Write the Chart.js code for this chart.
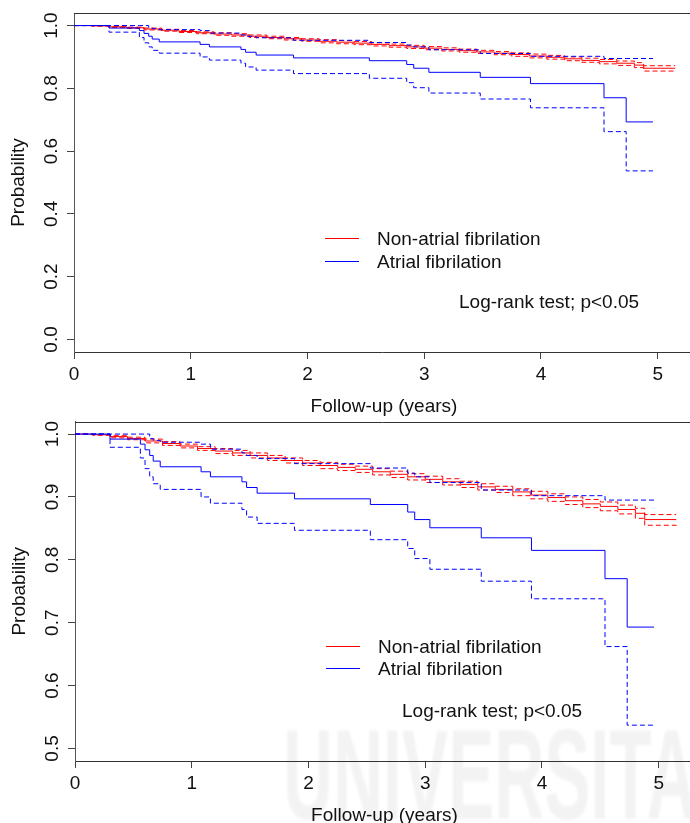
<!DOCTYPE html>
<html>
<head>
<meta charset="utf-8">
<script src="https://cdn.jsdelivr.net/npm/chart.js@4.4.1/dist/chart.umd.min.js"></script>
<style>
  html, body { margin: 0; padding: 0; background: #fff; }
  #wrap { position: relative; width: 690px; height: 823px; overflow: hidden; background: #fff; }
  #wrap canvas { position: absolute; left: 0; }
  #arriba { top: 0; }
  #abajo { top: 412px; }
  #marca {
    position: absolute; left: 283px; top: 711px;
    font: bold 128px "Liberation Sans", Arial, sans-serif; line-height: 1;
    color: #f3f3f3; white-space: nowrap;
    transform: scaleX(0.54); transform-origin: 0 0; filter: blur(1.5px);
  }
</style>
</head>
<body>
<div id="wrap">
  <div id="marca">UNIVERSITA</div>
  <canvas id="arriba" width="690" height="430"></canvas>
  <canvas id="abajo" width="690" height="411"></canvas>
</div>
<script>
// Kaplan-Meier: pacientes sin fibrilación auricular (rojo)
const tiemposNoFA = [0, 0.15, 0.3, 0.45, 0.6, 0.75, 0.9, 1.05, 1.2, 1.35, 1.5, 1.65, 1.8, 1.95, 2.1, 2.25, 2.4, 2.55, 2.7, 2.85,
  3.0, 3.15, 3.3, 3.45, 3.6, 3.75, 3.9, 4.05, 4.2, 4.35, 4.5, 4.65, 4.8, 4.88, 5.15];
const survNoFA = [1.000, 0.999, 0.996, 0.993, 0.989, 0.985, 0.981, 0.977, 0.973, 0.970, 0.966, 0.962, 0.958, 0.954, 0.950, 0.947, 0.944, 0.940, 0.936, 0.932,
  0.928, 0.924, 0.920, 0.916, 0.912, 0.908, 0.903, 0.899, 0.894, 0.889, 0.885, 0.880, 0.874, 0.864, 0.864];
const survNoFAsup = [1.000, 1.000, 0.998, 0.995, 0.992, 0.988, 0.984, 0.980, 0.977, 0.974, 0.970, 0.966, 0.962, 0.958, 0.955, 0.952, 0.949, 0.945, 0.941, 0.937,
  0.933, 0.929, 0.925, 0.921, 0.917, 0.913, 0.909, 0.905, 0.900, 0.896, 0.892, 0.887, 0.882, 0.872, 0.872];
const survNoFAinf = [1.000, 0.998, 0.994, 0.991, 0.986, 0.982, 0.978, 0.974, 0.969, 0.966, 0.962, 0.958, 0.954, 0.950, 0.945, 0.942, 0.939, 0.935, 0.931, 0.927,
  0.923, 0.919, 0.915, 0.911, 0.907, 0.902, 0.897, 0.893, 0.888, 0.883, 0.878, 0.873, 0.866, 0.855, 0.853];

// Kaplan-Meier: pacientes con fibrilación auricular (azul)
const tiemposFA = [0, 0.30, 0.56, 0.60, 0.64, 0.67, 0.73, 1.08, 1.16, 1.43, 1.47, 1.56, 1.88, 2.53, 2.85, 2.91, 3.04, 3.48, 3.91, 4.54, 4.73, 4.96];
const survFA = [1.0, 0.992, 0.984, 0.975, 0.966, 0.957, 0.948, 0.940, 0.932, 0.924, 0.915, 0.906, 0.897, 0.888, 0.876, 0.864, 0.851, 0.835, 0.815, 0.770, 0.693, 0.693];
const survFAsup = [1.0, 1.0, 1.0, 1.0, 0.993, 0.990, 0.987, 0.984, 0.976, 0.970, 0.966, 0.961, 0.953, 0.946, 0.938, 0.932, 0.923, 0.911, 0.902, 0.895, 0.895, 0.895];
const survFAinf = [1.0, 0.979, 0.962, 0.945, 0.932, 0.921, 0.912, 0.900, 0.890, 0.880, 0.868, 0.858, 0.847, 0.832, 0.818, 0.802, 0.785, 0.766, 0.738, 0.662, 0.537, 0.537];

// ejes
const ticksX = [0, 1, 2, 3, 4, 5];
const ticksYArriba = [0.0, 0.2, 0.4, 0.6, 0.8, 1.0];
const ticksYAbajo = [0.5, 0.6, 0.7, 0.8, 0.9, 1.0];
const tituloX = 'Follow-up (years)';
const tituloY = 'Probability';
const etiquetas = ['Non-atrial fibrilation', 'Atrial fibrilation'];
const textoLogRank = 'Log-rank test; p<0.05';

const ROJO = '#ff0000';
const AZUL = '#0000ff';
const FUENTE = '19px "Liberation Sans", Arial, sans-serif';
const TINTA = '#111';

function puntos(t, s) {
    return t.map((x, i) => ({ x: x, y: s[i] }));
}

function linea(label, t, s, color, discontinua) {
    return {
        label: label,
        data: puntos(t, s),
        borderColor: color,
        borderWidth: 1,
        borderDash: discontinua ? [5, 3] : [],
        stepped: true,
        pointRadius: 0,
        fill: false
    };
}

// las curvas azules quedan encima (el primer dataset se dibuja el último)
function curvas() {
    return [
        linea(etiquetas[1], tiemposFA, survFA, AZUL, false),
        linea('', tiemposFA, survFAsup, AZUL, true),
        linea('', tiemposFA, survFAinf, AZUL, true),
        linea(etiquetas[0], tiemposNoFA, survNoFA, ROJO, false),
        linea('', tiemposNoFA, survNoFAsup, ROJO, true),
        linea('', tiemposNoFA, survNoFAinf, ROJO, true)
    ];
}

// textos al estilo de R: etiquetas giradas, leyenda y prueba log-rank
const textosR = {
    id: 'textosR',
    afterDraw(chart, args, o) {
        const ctx = chart.ctx;
        const a = chart.chartArea;
        const sx = chart.scales.x;
        const sy = chart.scales.y;
        ctx.save();

        // borde superior de la caja
        ctx.strokeStyle = '#333';
        ctx.lineWidth = 1;
        ctx.beginPath();
        ctx.moveTo(a.left, Math.round(a.top) + 0.5);
        ctx.lineTo(a.right, Math.round(a.top) + 0.5);
        ctx.stroke();

        ctx.fillStyle = TINTA;
        ctx.font = FUENTE;
        ctx.textBaseline = 'alphabetic';

        // eje x
        ctx.textAlign = 'center';
        sx.ticks.forEach(t => {
            ctx.fillText(String(t.value), sx.getPixelForValue(t.value), a.bottom + 28);
        });
        ctx.fillText(tituloX, (a.left + a.right) / 2 + 2, a.bottom + 60);

        // eje y (rotado)
        sy.ticks.forEach(t => {
            ctx.save();
            ctx.translate(a.left - 17, sy.getPixelForValue(t.value));
            ctx.rotate(-Math.PI / 2);
            ctx.fillText(t.value.toFixed(1), 0, 0);
            ctx.restore();
        });
        ctx.save();
        ctx.translate(a.left - 50, (a.top + a.bottom) / 2);
        ctx.rotate(-Math.PI / 2);
        ctx.fillText(tituloY, 0, 0);
        ctx.restore();

        // leyenda
        ctx.textAlign = 'left';
        [3, 0].forEach((idx, k) => {
            const ds = chart.data.datasets[idx];
            const y = o.leyendaY[k];
            ctx.strokeStyle = ds.borderColor;
            ctx.beginPath();
            ctx.moveTo(o.leyendaX, Math.round(y) + 0.5);
            ctx.lineTo(o.leyendaX + 34, Math.round(y) + 0.5);
            ctx.stroke();
            ctx.fillText(ds.label, o.leyendaX + 52, y + 7);
        });

        ctx.fillText(textoLogRank, o.pruebaX, o.pruebaY);
        ctx.restore();
    }
};

// alto = altura del canvas, fondo = píxel del eje x dentro del canvas
function grafica(id, alto, arriba, fondo, izq, yMin, yMax, ticksY, opts) {
    return new Chart(document.getElementById(id), {
        type: 'line',
        data: { datasets: curvas() },
        options: {
            responsive: false,
            animation: false,
            layout: { padding: { top: arriba, left: 0, right: 0, bottom: 0 } },
            plugins: {
                legend: { display: false },
                tooltip: { enabled: false },
                textosR: opts
            },
            scales: {
                x: {
                    type: 'linear',
                    min: 0,
                    max: (690 - izq) / 116.74,
                    afterBuildTicks: s => { s.ticks = ticksX.map(v => ({ value: v })); },
                    afterFit: s => { s.height = alto - fondo; },
                    ticks: { display: false },
                    grid: { drawOnChartArea: false, drawTicks: true, tickLength: 7, color: '#444' },
                    border: { display: true, color: '#333', width: 1 }
                },
                y: {
                    type: 'linear',
                    min: yMin,
                    max: yMax,
                    afterBuildTicks: s => { s.ticks = ticksY.map(v => ({ value: v })); },
                    afterFit: s => { s.width = izq; },
                    ticks: { display: false },
                    grid: { drawOnChartArea: false, drawTicks: true, tickLength: 7, color: '#444' },
                    border: { display: true, color: '#555', width: 1 }
                }
            }
        },
        plugins: [textosR]
    });
}

grafica('arriba', 430, 13, 352, 74, -0.04, 1.04, ticksYArriba,
    { leyendaX: 325, leyendaY: [238, 260.5], pruebaX: 459, pruebaY: 308 });
grafica('abajo', 411, 9.5, 349, 75, 0.48, 1.02, ticksYAbajo,
    { leyendaX: 326, leyendaY: [233.7, 256.3], pruebaX: 402, pruebaY: 305 });
</script>
</body>
</html>
